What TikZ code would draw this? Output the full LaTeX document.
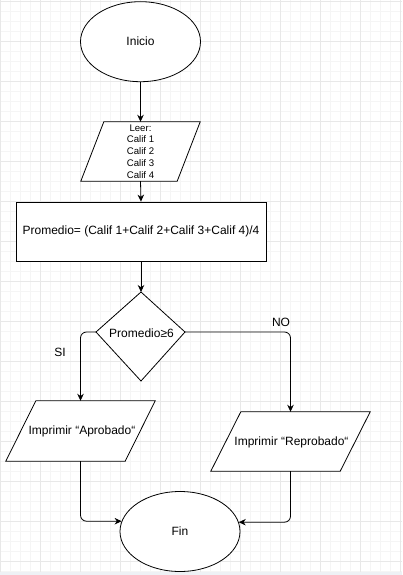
\documentclass[tikz,border=0pt]{standalone}
\usepackage{fontspec}
\setmainfont{Liberation Sans}
\usetikzlibrary{arrows.meta,shapes.geometric,calc}
\definecolor{gridminor}{HTML}{F5F5F5}
\definecolor{gridmajor}{HTML}{E8E8E8}
\definecolor{strip}{HTML}{EEF1F5}
\begin{document}
\begin{tikzpicture}[x=1pt,y=-1pt,
  every node/.style={font=\fontsize{12}{14}\selectfont, text=black},
  shapeline/.style={draw=black, line width=0.8pt, fill=white},
  edge/.style={draw=black, line width=0.8pt, rounded corners=6pt, -{Stealth[length=7pt,width=6.5pt]}},
  terminal/.style={ellipse, shapeline, minimum width=120pt, minimum height=80pt, inner sep=0pt},
  iobox/.style={inner sep=0pt, minimum width=#1},
  procbox/.style={rectangle, shapeline, minimum width=250pt, minimum height=59pt, inner sep=0pt},
  gminor/.style={draw=gridminor, line width=0.8pt},
  gmajor/.style={draw=gridmajor, line width=0.8pt},
  lbl/.style={inner sep=0pt}
]
\useasboundingbox (0,0) rectangle (402,575);
\fill[white] (0,0) rectangle (402,575);
% grid
\foreach \x in {0,10,...,400} \draw[gminor] (\x,0) -- (\x,572);
\foreach \y in {1,11,...,571} \draw[gminor] (0,\y) -- (402,\y);
\foreach \x in {0,40,...,400} \draw[gmajor] (\x,0) -- (\x,572);
\foreach \y in {1,41,...,561} \draw[gmajor] (0,\y) -- (402,\y);
\fill[strip] (0,572) rectangle (402,575);

% Inicio
\node[terminal] (inicio) at (140.5,41.7) {Inicio};

% Leer
\node[iobox=119pt, minimum height=59pt] (leer) at (140.5,151.5) {};
\draw[shapeline] ($(leer.north west)+(23,0)$) -- (leer.north east) -- ($(leer.south east)+(-23,0)$) -- (leer.south west) -- cycle;
\node[align=center, font=\fontsize{9.6}{11.8}\selectfont] (leertxt) at (leer.center) {Leer:\\Calif 1\\Calif 2\\Calif 3\\Calif 4};

% Promedio
\node[procbox] (prom) at (141,231.5) {Promedio= (Calif 1+Calif 2+Calif 3+Calif 4)/4};

% Decision
\coordinate (dT) at (141,292);
\coordinate (dL) at (96,332);
\coordinate (dR) at (185,332);
\coordinate (dB) at (141,381);
\draw[shapeline] (dT) -- (dR) -- (dB) -- (dL) -- cycle;
\node (dec) at (141.5,333) {Promedio≥6};

% Outputs
\node[iobox=149pt, minimum height=60pt] (aprob) at (80.5,431) {};
\draw[shapeline] ($(aprob.north west)+(30,0)$) -- (aprob.north east) -- ($(aprob.south east)+(-30,0)$) -- (aprob.south west) -- cycle;
\node (aprobtxt) at (82,431.5) {Imprimir “Aprobado“};

\node[iobox=159pt, minimum height=59pt] (repro) at (290.5,441.5) {};
\draw[shapeline] ($(repro.north west)+(30,0)$) -- (repro.north east) -- ($(repro.south east)+(-30,0)$) -- (repro.south west) -- cycle;
\node (reprotxt) at (291.5,442) {Imprimir “Reprobado“};

% Fin
\node[terminal] (fin) at (180,531.5) {Fin};

% labels
\node[lbl] (si) at (60,352) {SI};
\node[lbl] (no) at (281,322) {NO};

% connectors
\draw[edge] (inicio.south) -- (leer.north);
\draw[edge] (leer.south) -- (prom.north);
\draw[edge] (prom.south) -- (dT);
\draw[edge] (dL) -| (aprob.north);
\draw[edge] (dR) -| (repro.north);
\draw[edge] (aprob.south) |- (fin.170);
\draw[edge] (repro.south) |- (fin.9);
\end{tikzpicture}
\end{document}
